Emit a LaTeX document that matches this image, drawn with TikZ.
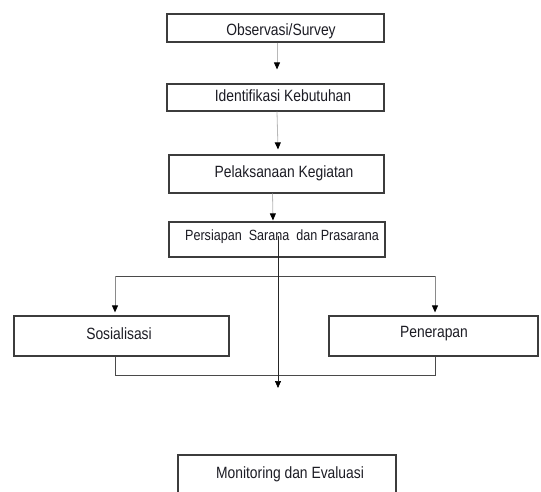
\documentclass[tikz,border=0pt]{standalone}
\usepackage{fontspec}
\setmainfont[FakeStretch=0.85]{Liberation Sans}
\usetikzlibrary{arrows.meta}
\definecolor{boxc}{HTML}{3C3C3C}
\definecolor{txtc}{HTML}{1C1C24}
\definecolor{lightc}{HTML}{B8B8B8}
\definecolor{midc}{HTML}{8A8A8A}
\definecolor{darkc}{HTML}{4A4A4A}
\begin{document}
\begin{tikzpicture}[x=1pt,y=-1pt,
  box/.style={draw=boxc,line width=1.2pt,inner sep=0pt},
  txt/.style={anchor=base,text=txtc,inner sep=0pt,font=\fontsize{16.3}{19}\selectfont},
  txtsmall/.style={anchor=base,text=txtc,inner sep=0pt,font=\fontsize{14.8}{18}\selectfont},
  conn/.style={draw=lightc,line width=0.8pt,-{Triangle[length=7pt,width=6pt,color=black]}},
  conngray/.style={draw=midc,line width=0.9pt,-{Triangle[length=7pt,width=6pt,color=black]}},
  longline/.style={draw=black!85,line width=0.7pt,-{Triangle[length=7pt,width=6pt,color=black]}},
  hline/.style={draw=darkc,line width=1pt}]
\clip (0,0) rectangle (541,492);
\fill[white] (0,0) rectangle (541,492);
% boxes
\node[box,minimum width=217,minimum height=28] (obs) at (275.5,28) {};
\node[txt] (tobs) at (281,36) {Observasi/Survey};
\node[box,minimum width=217,minimum height=27] (idf) at (275.5,97.5) {};
\node[txt] (tidf) at (283,102) {Identifikasi Kebutuhan};
\node[box,minimum width=215,minimum height=38] (pel) at (276.5,174) {};
\node[txt] (tpel) at (284,178) {Pelaksanaan Kegiatan};
\node[box,minimum width=216,minimum height=35] (per) at (277,239.5) {};
\node[txtsmall] (tper) at (282,240) {Persiapan\ \ Sarana\ \ dan Prasarana};
\node[box,minimum width=215,minimum height=40] (sos) at (121.5,336) {};
\node[txt] (tsos) at (119,339) {Sosialisasi};
\node[box,minimum width=209,minimum height=40] (pen) at (433.5,336) {};
\node[txt] (tpen) at (434,337) {Penerapan};
\node[box,minimum width=218,minimum height=50] (mon) at (287,480) {};
\node[txt] (tmon) at (290,478) {Monitoring dan Evaluasi};
% connectors
\draw[conn] ([xshift=1.5]obs.south) -- ([xshift=1.5,yshift=14]idf.north);
\draw[conn] ([xshift=1.5]idf.south) -- ([xshift=1.5,yshift=5]pel.north);
\draw[conn] ([xshift=-4]pel.south) -- ([xshift=-4,yshift=1]per.north);
\coordinate (hl) at (115,276);
\coordinate (hr) at (435,276);
\coordinate (ml) at (115,375);
\coordinate (mr) at (435,375);
\draw[hline] (hl) -- (hr);
\draw[conngray,shorten >=3pt] (hl) -- (hl |- sos.north);
\draw[conngray,shorten >=3pt] (hr) -- (hr |- pen.north);
\draw[hline] (sos.south -| ml) -- (ml) -- (mr) -- (pen.south -| mr);
\coordinate (ls) at (278,236);
\coordinate (le) at (278,388);
\draw[longline] (ls) -- (le);
\end{tikzpicture}
\end{document}
